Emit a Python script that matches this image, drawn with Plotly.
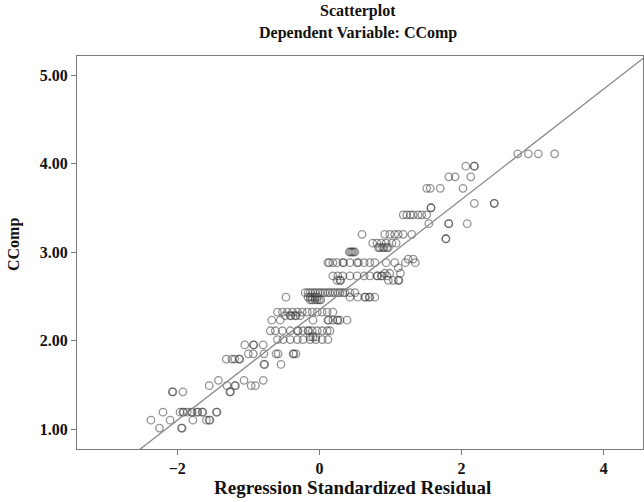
import plotly.graph_objects as go

# Values (CComp level, standardized residual)
ccomp = (
    [4.11] * 4 + [3.97] * 3 + [3.85] * 3 + [3.72] * 4 + [3.55] * 3 + [3.50] * 2
    + [3.42] * 7 + [3.32] * 4 + [3.20] * 7 + [3.15] * 2 + [3.10] * 6 + [3.05] * 6
    + [3.00] * 5 + [2.92] * 2 + [2.88] * 16 + [2.82] * 1 + [2.76] * 3 + [2.73] * 12
    + [2.68] * 7 + [2.54] * 19 + [2.49] * 13 + [2.46] * 6 + [2.32] * 12 + [2.28] * 6
    + [2.23] * 10 + [2.11] * 14 + [2.04] * 3 + [2.01] * 9 + [1.95] * 4 + [1.85] * 8
    + [1.79] * 5 + [1.73] * 3 + [1.55] * 3 + [1.49] * 6 + [1.42] * 5 + [1.19] * 13
    + [1.10] * 6 + [1.01] * 3
)

std_residual = [
    2.79, 2.94, 3.08, 3.31,
    2.06, 2.18, 2.18,
    1.82, 1.91, 2.13,
    1.51, 1.56, 1.70, 2.02,
    2.18, 2.46, 2.46,
    1.57, 1.57,
    1.18, 1.23, 1.28, 1.32, 1.39, 1.44, 1.51,
    1.54, 1.82, 1.82, 2.08,
    0.60, 0.92, 0.99, 1.06, 1.11, 1.18, 1.30,
    1.78, 1.78,
    0.75, 0.81, 0.87, 0.94, 1.02, 1.08,
    0.83, 0.85, 0.89, 0.91, 0.95, 0.97,
    0.42, 0.44, 0.46, 0.48, 0.50,
    1.25, 1.32,
    0.12, 0.14, 0.19, 0.25, 0.33, 0.34, 0.43, 0.53, 0.55, 0.63, 0.71, 0.78, 0.94, 1.06, 1.21, 1.35,
    1.11,
    0.92, 0.99, 1.14,
    0.19, 0.26, 0.33, 0.43, 0.53, 0.63, 0.71, 0.81, 0.82, 0.87, 0.88, 0.95,
    0.25, 0.29, 0.30, 0.97, 1.04, 1.11, 1.12,
    -0.20, -0.16, -0.13, -0.09, -0.06, -0.02, 0.01, 0.05, 0.08, 0.12, 0.15, 0.19, 0.22, 0.26, 0.29, 0.33, 0.36, 0.43, 0.50,
    -0.47, -0.16, -0.13, -0.10, -0.06, -0.03, 0.43, 0.54, 0.64, 0.65, 0.70, 0.71, 0.78,
    -0.13, -0.10, -0.06, -0.03, 0.00, 0.02,
    -0.59, -0.52, -0.45, -0.38, -0.31, -0.24, -0.17, -0.10, -0.03, 0.04, 0.11, 0.19,
    -0.48, -0.41, -0.40, -0.34, -0.33, -0.27,
    -0.67, -0.55, -0.09, 0.12, 0.13, 0.19, 0.25, 0.26, 0.29, 0.39,
    -0.69, -0.62, -0.52, -0.41, -0.31, -0.30, -0.23, -0.16, -0.15, -0.10, -0.03, 0.04, 0.11, 0.15,
    -0.13, -0.09, -0.05,
    -0.59, -0.51, -0.41, -0.31, -0.23, -0.13, -0.05, 0.04, 0.12,
    -1.05, -0.93, -0.92, -0.79,
    -1.00, -0.93, -0.78, -0.61, -0.58, -0.37, -0.36, -0.33,
    -1.31, -1.23, -1.19, -1.13, -1.12,
    -0.78, -0.77, -0.54,
    -1.42, -1.06, -0.79,
    -1.55, -1.30, -1.19, -1.18, -0.96, -0.90,
    -2.07, -2.06, -1.92, -1.26, -1.25,
    -2.20, -1.96, -1.92, -1.91, -1.86, -1.80, -1.79, -1.72, -1.71, -1.65, -1.64, -1.45, -1.44,
    -2.37, -2.10, -1.78, -1.59, -1.55, -1.54,
    -2.25, -1.94, -1.93,
]

x_tick_vals = [-2, 0, 2, 4]
y_tick_vals = [1, 2, 3, 4, 5]
x_range = [-3.41, 4.553]
y_range = [0.774, 5.215]

# Fit line parameters
fit_intercept = 2.346
fit_slope = 0.624

FONT = "Liberation Serif"
fig = go.Figure()

fig.add_trace(go.Scatter(
    x=std_residual, y=ccomp, mode="markers",
    marker=dict(symbol="circle-open", size=7.5, color="rgba(60,60,60,0.55)",
                line=dict(width=1.3)),
    hoverinfo="skip", showlegend=False,
))

fit_x = list(x_range)
fit_y = [fit_intercept + fit_slope * v for v in fit_x]
fig.add_trace(go.Scatter(
    x=fit_x, y=fit_y, mode="lines",
    line=dict(color="#8a8a8a", width=1.3),
    hoverinfo="skip", showlegend=False,
))

axis_common = dict(
    showgrid=False, zeroline=False, showline=True, mirror=True,
    linecolor="#7a7a7a", linewidth=1, ticks="outside", ticklen=5,
    tickcolor="#7a7a7a", tickwidth=1,
    tickfont=dict(family=FONT, size=16, color="#111111", weight="bold"),
)

title_font = dict(family=FONT, size=16, color="#111111", weight="bold")

fig.update_layout(
    width=644, height=502,
    margin=dict(l=77, r=1, t=56, b=53),
    paper_bgcolor="white", plot_bgcolor="white",
    xaxis=dict(range=x_range, tickvals=x_tick_vals, **axis_common),
    yaxis=dict(range=y_range, tickvals=y_tick_vals, tickformat=".2f", **axis_common),
    annotations=[
        dict(text="Scatterplot", xref="paper", yref="paper",
             x=0.4965, y=1.1145, xanchor="center", yanchor="middle", showarrow=False,
             font=title_font),
        dict(text="Dependent Variable: CComp", xref="paper", yref="paper",
             x=0.4965, y=1.0585, xanchor="center", yanchor="middle", showarrow=False,
             font=title_font),
        dict(text="Regression Standardized Residual", xref="paper", yref="paper",
             x=0.4876, y=-0.0992, xanchor="center", yanchor="middle", showarrow=False,
             font=dict(family=FONT, size=19, color="#111111", weight="bold")),
        dict(text="CComp", xref="paper", yref="paper", textangle=-90,
             x=-0.1113, y=0.519, xanchor="center", yanchor="middle", showarrow=False,
             font=dict(family=FONT, size=16, color="#111111", weight="bold")),
    ],
)

fig.write_html(
    "out.html",
    config={"displayModeBar": False, "staticPlot": True},
    post_script="document.body.style.margin='0';document.body.style.overflow='hidden';",
)
